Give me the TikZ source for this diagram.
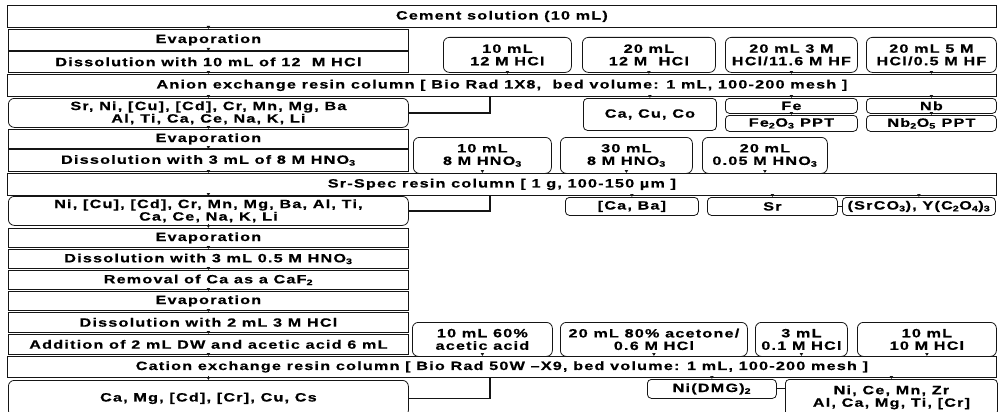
\documentclass[tikz,border=0pt]{standalone}
\usepackage{fontspec}
\setmainfont{Liberation Sans}[FakeStretch=1.35,LetterSpace=10,BoldFeatures={FakeBold=0.6}]
\usetikzlibrary{arrows.meta,positioning,calc}
\definecolor{ink}{HTML}{151515}
\newcommand\boxfont{\fontsize{12}{12.5}\selectfont\bfseries}
\tikzset{
  bar/.style={draw=ink,line width=0.8pt,inner sep=0pt,anchor=north west,minimum width=989pt,font=\boxfont},
  stepbox/.style={draw=ink,line width=0.8pt,inner sep=0pt,anchor=north west,minimum width=400pt,font=\boxfont},
  elu/.style={draw=ink,line width=0.8pt,rounded corners=6pt,inner sep=0pt,anchor=north west,align=center,font=\boxfont},
  reag/.style={draw=ink,line width=0.8pt,rounded corners=6pt,inner sep=0pt,anchor=north west,align=center,font=\boxfont},
  tip/.style={-{Latex[length=3pt,width=4pt]},draw=ink,line width=0.6pt},
  link/.style={draw=ink,line width=1.8pt},
}
\begin{document}
\begin{tikzpicture}[x=1pt,y=-1pt]
\useasboundingbox (0,0) rectangle (998,412);
\clip (0,0) rectangle (998,412);
% full-width solution and column bars
\foreach \name/\yy/\hh/\txt in {
  cement/5/22/{Cement solution (10 mL)},
  anion/74/22/{Anion exchange resin column [ Bio Rad 1X8,\ \ bed volume: 1 mL, 100-200 mesh ]},
  srspec/173/22/{Sr-Spec resin column [ 1 g, 100-150 µm ]},
  cation/356/21/{Cation exchange resin column [ Bio Rad 50W --X9, bed volume: 1 mL, 100-200 mesh ]}} {
  \node[bar,minimum height=\hh pt] (\name) at (7,\yy) {\txt};
}
% treatment steps, left column
\foreach \name/\yy/\hh/\txt in {
  evapa/29/21/Evaporation,
  dissa/51/21/{Dissolution with 10 mL of 12\ \ M HCl},
  evapb/129/19/Evaporation,
  dissb/149/22/{Dissolution with 3 mL of 8 M HNO\textsubscript{3}},
  evapc/228/19/Evaporation,
  dissc/249/19/{Dissolution with 3 mL 0.5 M HNO\textsubscript{3}},
  remov/270/19/{Removal of Ca as a CaF\textsubscript{2}},
  evapd/291/19/Evaporation,
  dissd/312/20/{Dissolution with 2 mL 3 M HCl},
  addit/334/20/{Addition of 2 mL DW and acetic acid 6 mL}} {
  \node[stepbox,minimum height=\hh pt] (\name) at (8,\yy) {\txt};
}
% fractions passing through
\node[elu,minimum width=400pt,minimum height=29pt] (elua) at (8,98)
  {Sr, Ni, [Cu], [Cd], Cr, Mn, Mg, Ba\\Al, Ti, Ca, Ce, Na, K, Li};
\node[elu,minimum width=400pt,minimum height=29pt] (elub) at (8,196)
  {Ni, [Cu], [Cd], Cr, Mn, Mg, Ba, Al, Ti,\\Ca, Ce, Na, K, Li};
\node[elu,minimum width=400pt,minimum height=36pt] (eluc) at (8,380)
  {Ca, Mg, [Cd], [Cr], Cu, Cs};
% eluents
\foreach \name/\xx/\yy/\ww/\hh/\tgt/\txt in {
  rea/443/37/128/35/anion/{10 mL\\12 M HCl},
  reb/582/37/133/35/anion/{20 mL\\12 M\ \ HCl},
  rec/725/37/132/35/anion/{20 mL 3 M\\HCl/11.6 M HF},
  red/866/37/130/35/anion/{20 mL 5 M\\HCl/0.5 M HF},
  ree/413/137/138/36/srspec/{10 mL\\8 M HNO\textsubscript{3}},
  ref/560/137/132/36/srspec/{30 mL\\8 M HNO\textsubscript{3}},
  reg/702/137/125/36/srspec/{20 mL\\0.05 M HNO\textsubscript{3}},
  reh/412/322/140/34/cation/{10 mL 60\%\\acetic acid},
  rei/560/322/187/34/cation/{20 mL 80\% acetone/\\0.6 M HCl},
  rej/755/322/92/34/cation/{3 mL\\0.1 M HCl},
  rek/857/322/139/34/cation/{10 mL\\10 M HCl}} {
  \node[reag,minimum width=\ww pt,minimum height=\hh pt] (\name) at (\xx,\yy) {\txt};
  \draw[tip] ($(\name.south)+(0,-2)$) -- (\name.south |- \tgt.north);
}
% separated fractions
\foreach \name/\xx/\yy/\ww/\hh/\src/\txt in {
  cacuco/583/98/133/32/anion/{Ca, Cu, Co},
  fe/725/98/132/15/anion/Fe,
  feox/725/115/132/16/fe/{Fe\textsubscript{2}O\textsubscript{3} PPT},
  nb/866/98/130/15/anion/Nb,
  nbox/866/115/130/16/nb/{Nb\textsubscript{2}O\textsubscript{5} PPT},
  caba/565/197/133/18/srspec/{[Ca, Ba]},
  sr/707/197/130/18/srspec/Sr,
  srco/842/197/153/18/srspec/{(SrCO\textsubscript{3}), Y(C\textsubscript{2}O\textsubscript{4})\textsubscript{3}},
  nidmg/647/379/129/19/cation/{Ni(DMG)\textsubscript{2}},
  nice/785/379/212/36/cation/{Ni, Ce, Mn, Zr\\Al, Ca, Mg, Ti, [Cr]}} {
  \node[elu,rounded corners=4pt,minimum width=\ww pt,minimum height=\hh pt] (\name) at (\xx,\yy) {\txt};
  \draw[tip] ($(\name.north |- \src.south)+(0,-2)$) -- (\name.north);
}
% main flow down the left column
\foreach \a/\b in {cement/evapa,evapa/dissa,dissa/anion,anion/elua,elua/evapb,
  evapb/dissb,dissb/srspec,srspec/elub,elub/evapc,evapc/dissc,dissc/remov,
  remov/evapd,evapd/dissd,dissd/addit,addit/cation,cation/eluc} {
  \draw[tip] ($(\a.south -| evapa.center)+(0,-2)$) -- (\b.north -| evapa.center);
}
% loading lines back to the columns
\coordinate (jx) at (490,0);
\draw[link] (elua.east) -| (jx |- anion.south);
\draw[link] (elub.east) -| (jx |- srspec.south);
\draw[link] (eluc.east -| elua.east) -| (jx |- cation.south);
\draw[link,line width=1pt] (sr.east) -- (srco.west |- sr.east);
\draw[link,line width=1pt] (nidmg.east) -- (nice.west |- nidmg.east);
\end{tikzpicture}
\end{document}
